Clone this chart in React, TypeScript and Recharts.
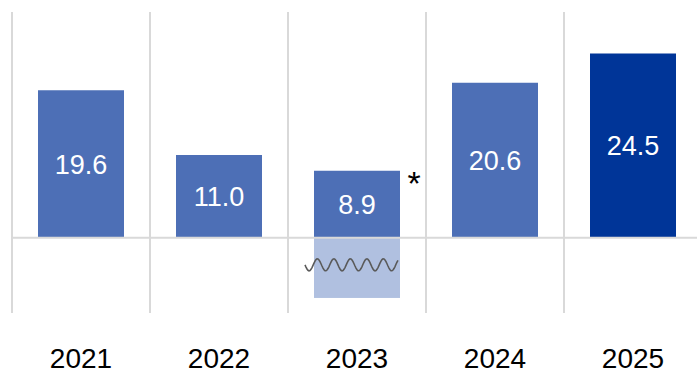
import React from "react";
import { BarChart, Bar, XAxis, YAxis, Cell, LabelList, ReferenceLine } from "recharts";

const years = ["2021", "2022", "2023", "2024", "2025"];
const values = [19.6, 11.0, 8.9, 20.6, 24.5];
const breakValues = [0, 0, -8, 0, 0];
const notes = ["", "", "*", "", ""];
const yDomain = [-10, 30];

const BAR = "#4d6fb6";
const BAR_LATEST = "#003598";
const BAR_BREAK = "#b0c0e0";
const GRID = "#d9d9d9";
const FONT = "'Liberation Sans', Arial, sans-serif";

const data = years.map((year, i) => ({
  year,
  value: values[i],
  brk: breakValues[i] || null,
  note: notes[i],
}));

// light bar with a wavy break mark drawn across it
function BreakBar(props: any) {
  const { x, y, width, height } = props;
  if (!height || Math.abs(height) < 1) return null;
  const top = Math.min(y, y + height);
  const h = Math.abs(height);
  const cy = top + h / 2 - 3;
  const x0 = x - 9;
  const x1 = x + width - 2;
  const period = 16.5;
  let d = `M ${x0} ${cy}`;
  for (let px = x0; px <= x1; px += 1) {
    d += ` L ${px} ${cy + 6 * Math.sin(((px - x0) / period) * 2 * Math.PI)}`;
  }
  return (
    <g>
      <rect x={x} y={top} width={width} height={h} fill={BAR_BREAK} />
      <path d={d} fill="none" stroke="#5a5a5a" strokeWidth={1.6} />
    </g>
  );
}

function NoteLabel(props: any) {
  const { x, y, width, value } = props;
  if (!value) return null;
  return (
    <text x={x + width + 14} y={y + 24} textAnchor="middle" fontSize={34} fill="#000" fontFamily={FONT}>
      {value}
    </text>
  );
}

export default function App() {
  return (
    <div style={{ position: "fixed", left: 0, top: 0, width: 697, height: 373, overflow: "hidden", background: "#fff" }}>
      <BarChart
        width={702}
        height={373}
        data={data}
        margin={{ top: 12, right: 0, left: 12, bottom: 0 }}
        stackOffset="sign"
      >
        <XAxis
          dataKey="year"
          axisLine={false}
          tickLine={false}
          tickSize={0}
          tickMargin={35}
          height={60}
          tick={{ fontSize: 28, fill: "#000", fontFamily: FONT }}
        />
        <YAxis hide domain={yDomain} />
        {years.map((yr) => (
          <ReferenceLine key={yr} x={yr} position="start" stroke={GRID} strokeWidth={2} />
        ))}
        <ReferenceLine y={0} stroke={GRID} strokeWidth={2} />
        <Bar dataKey="value" stackId="a" barSize={86} isAnimationActive={false}>
          {data.map((d, i) => (
            <Cell key={d.year} fill={i === data.length - 1 ? BAR_LATEST : BAR} />
          ))}
          <LabelList
            dataKey="value"
            position="center"
            fill="#fff"
            fontSize={27}
            fontFamily={FONT}
            formatter={(v: any) => Number(v).toFixed(1)}
          />
          <LabelList dataKey="note" content={<NoteLabel />} />
        </Bar>
        <Bar dataKey="brk" stackId="a" barSize={86} shape={<BreakBar />} isAnimationActive={false} />
      </BarChart>
    </div>
  );
}
